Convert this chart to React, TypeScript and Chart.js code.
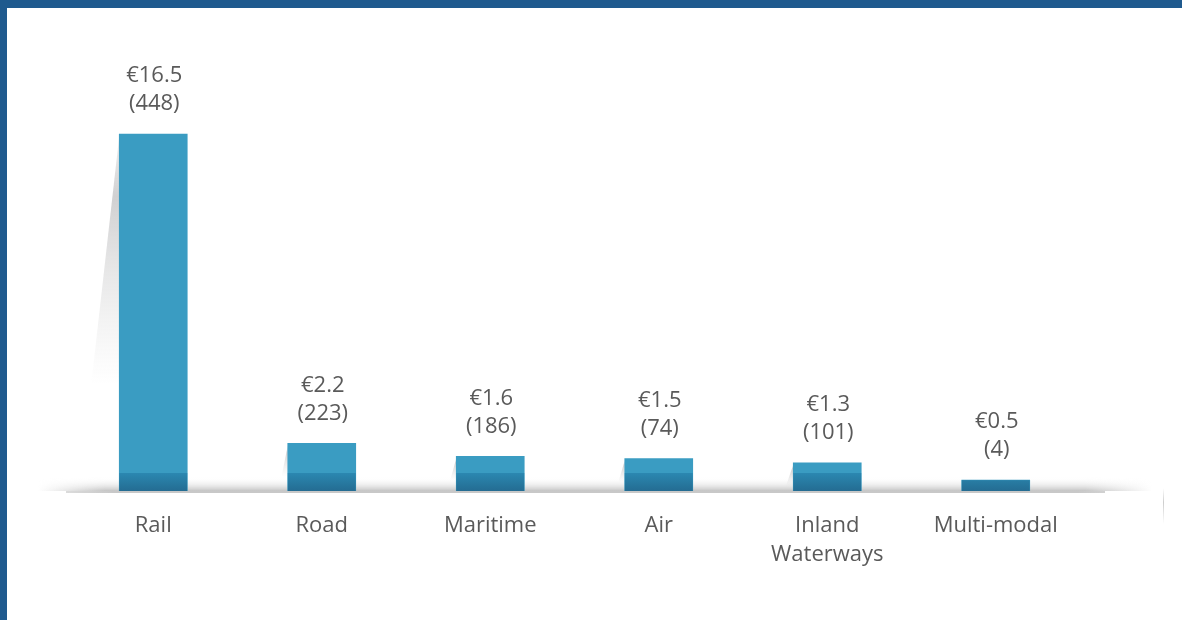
import React, { useEffect, useRef } from "react";
import { Chart, registerables } from "chart.js";

Chart.register(...registerables);

const categories: (string | string[])[] = ["Rail", "Road", "Maritime", "Air", ["Inland", "Waterways"], "Multi-modal"];
const fundingBillions: number[] = [16.5, 2.2, 1.6, 1.5, 1.3, 0.5];
const projectCounts: number[] = [448, 223, 186, 74, 101, 4];

const FONT = "'Open Sans', 'DejaVu Sans', sans-serif";
const TEXT = "#5a5a5a";

const decorPlugin = {
  id: "decor",
  beforeDatasetsDraw(chart: any) {
    const { ctx, chartArea } = chart;
    const base = chartArea.bottom;
    ctx.save();
    const hg = ctx.createLinearGradient(38, 0, 1152, 0);
    hg.addColorStop(0, "rgba(190,190,190,0)");
    hg.addColorStop(0.06, "rgba(190,190,190,1)");
    hg.addColorStop(0.94, "rgba(190,190,190,1)");
    hg.addColorStop(1, "rgba(190,190,190,0)");
    ctx.fillStyle = hg;
    const n = 14;
    for (let i = 0; i < n; i++) {
      ctx.globalAlpha = Math.pow((i + 1) / n, 2.2) * 0.85;
      ctx.fillRect(38, base - n + i, 1114, 1);
    }
    ctx.globalAlpha = 1;
    const meta = chart.getDatasetMeta(0);
    meta.data.forEach((bar: any) => {
      const left = bar.x - bar.width / 2;
      const top = bar.y;
      const h = base - top;
      if (h < 12) return;
      const dx = Math.max(Math.min(0.16 * h, 40), 9);
      const g = ctx.createLinearGradient(0, top, 0, top + Math.max(h * 0.7, 24));
      g.addColorStop(0, "rgba(170,170,172,0.15)");
      g.addColorStop(0.25, "rgba(170,170,172,0.55)");
      g.addColorStop(1, "rgba(200,200,200,0)");
      ctx.fillStyle = g;
      ctx.beginPath();
      ctx.moveTo(left, top + 2);
      ctx.lineTo(left - dx, base);
      ctx.lineTo(left, base);
      ctx.closePath();
      ctx.fill();
    });
    ctx.restore();
  },
  afterDatasetsDraw(chart: any) {
    const { ctx, chartArea } = chart;
    const base = chartArea.bottom;
    const meta = chart.getDatasetMeta(0);
    ctx.save();
    meta.data.forEach((bar: any, i: number) => {
      const left = bar.x - bar.width / 2;
      const bandTop = Math.max(bar.y, base - 18);
      const g = ctx.createLinearGradient(0, base - 18, 0, base);
      g.addColorStop(0, "#2b88b1");
      g.addColorStop(1, "#246c92");
      ctx.fillStyle = g;
      ctx.fillRect(left, bandTop, bar.width, base - bandTop);
      ctx.fillStyle = TEXT;
      ctx.font = `22px ${FONT}`;
      ctx.textAlign = "center";
      ctx.textBaseline = "middle";
      ctx.fillText(`€${fundingBillions[i]}`, bar.x + 1, bar.y - 58);
      ctx.fillText(`(${projectCounts[i]})`, bar.x + 1, bar.y - 30);
    });
    const lg = ctx.createLinearGradient(60, 0, 1110, 0);
    lg.addColorStop(0, "rgba(200,200,200,0.6)");
    lg.addColorStop(0.05, "rgba(200,200,200,1)");
    lg.addColorStop(0.97, "rgba(200,200,200,1)");
    lg.addColorStop(1, "rgba(200,200,200,0.8)");
    ctx.fillStyle = lg;
    ctx.fillRect(66, base, 1039, 2);
    const vg = ctx.createLinearGradient(0, 488, 0, 524);
    vg.addColorStop(0, "rgba(200,200,200,0)");
    vg.addColorStop(0.4, "rgba(200,200,200,0.9)");
    vg.addColorStop(1, "rgba(200,200,200,0)");
    ctx.fillStyle = vg;
    ctx.fillRect(1163, 488, 1, 36);
    ctx.restore();
  },
};

export default function App() {
  const ref = useRef<HTMLCanvasElement | null>(null);
  useEffect(() => {
    if (!ref.current) return;
    const chart = new Chart(ref.current, {
      type: "bar",
      data: {
        labels: categories,
        datasets: [
          {
            data: fundingBillions,
            backgroundColor: "#3a9cc2",
            borderWidth: 0,
            barThickness: 68,
          },
        ],
      },
      options: {
        responsive: false,
        animation: false,
        layout: { padding: { left: 69, right: 102, top: 10, bottom: 0 } },
        plugins: { legend: { display: false }, tooltip: { enabled: false } },
        scales: {
          x: {
            grid: { display: false, drawTicks: false },
            border: { display: false },
            ticks: {
              color: TEXT,
              font: { family: FONT, size: 22, lineHeight: 1.32 },
              padding: 20,
              maxRotation: 0,
              autoSkip: false,
            },
            afterFit: (scale: any) => {
              scale.height = 129;
            },
          },
          y: {
            display: false,
            min: 0,
            max: 22.23,
          },
        },
      },
      plugins: [decorPlugin],
    });
    return () => chart.destroy();
  }, []);

  return (
    <div style={{ position: "absolute", left: 0, top: 0, width: 1182, height: 620, background: "#fff", overflow: "hidden" }}>
      <div style={{ position: "absolute", left: 0, top: 0, width: 1182, height: 8, background: "#1f5a8e" }} />
      <div style={{ position: "absolute", left: 0, top: 0, width: 7, height: 620, background: "#1f5a8e" }} />
      <canvas ref={ref} width={1182} height={620} style={{ position: "absolute", left: 0, top: 0 }} />
    </div>
  );
}
